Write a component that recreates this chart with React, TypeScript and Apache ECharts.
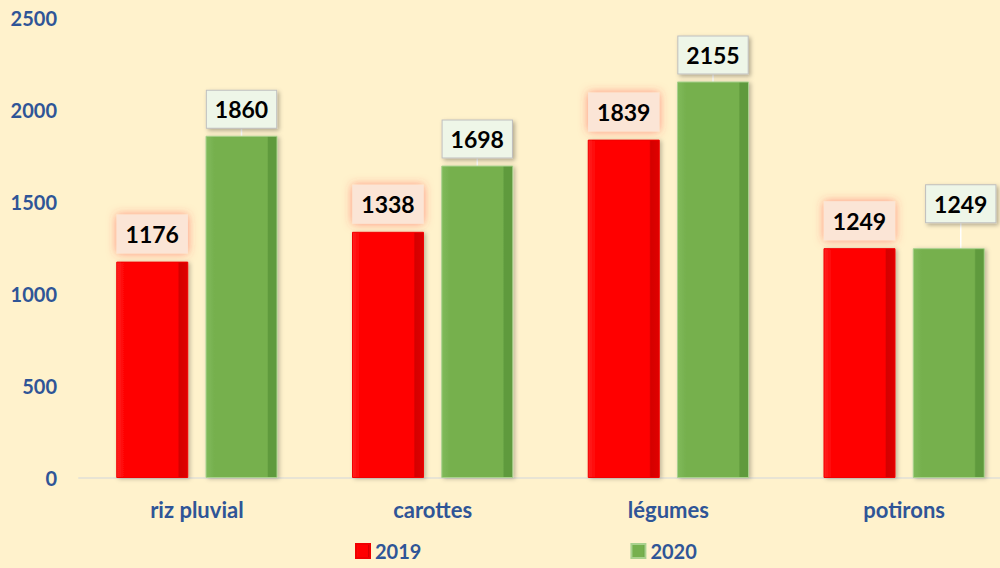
import React, { useEffect, useRef } from "react";
import * as echarts from "echarts";

const categories = ["riz pluvial", "carottes", "légumes", "potirons"];
const values2019 = [1176, 1338, 1839, 1249];
const values2020 = [1860, 1698, 2155, 1249];
const yTicks = [0, 500, 1000, 1500, 2000, 2500];

const FONT = "Lato, 'Open Sans', sans-serif";
const BLUE = "#2F5597";

export default function App() {
  const ref = useRef<HTMLDivElement>(null);
  useEffect(() => {
    if (!ref.current) return;
    const chart = echarts.init(ref.current, null, { renderer: "svg" });
    const redGrad = new echarts.graphic.LinearGradient(0, 0, 1, 0, [
      { offset: 0, color: "#FF2020" },
      { offset: 0.12, color: "#FF0000" },
      { offset: 0.86, color: "#FF0000" },
      { offset: 0.88, color: "#D40000" },
      { offset: 1, color: "#E00000" },
    ]);
    const greenGrad = new echarts.graphic.LinearGradient(0, 0, 1, 0, [
      { offset: 0, color: "#80BA5A" },
      { offset: 0.12, color: "#76B04E" },
      { offset: 0.86, color: "#76B04E" },
      { offset: 0.88, color: "#5F9A3C" },
      { offset: 1, color: "#5F9A3C" },
    ]);
    chart.setOption({
      animation: false,
      backgroundColor: "#FFF2CC",
      textStyle: { fontFamily: FONT },
      grid: { left: 79, top: 18, bottom: 90, width: 943, outerBoundsMode: "none" },
      legend: {
        left: 355,
        top: 541,
        padding: 0,
        itemWidth: 14,
        itemHeight: 14,
        itemGap: 209,
        icon: "rect",
        textStyle: { color: BLUE, fontSize: 20, fontWeight: "bold", fontFamily: FONT },
        data: ["2019", "2020"],
      },
      xAxis: {
        type: "category",
        data: categories,
        axisTick: { show: false },
        axisLine: { lineStyle: { color: "#E8E4D4", width: 2 } },
        axisLabel: { color: BLUE, fontSize: 22, fontWeight: "bold", margin: 20, fontFamily: FONT },
      },
      yAxis: {
        type: "value",
        min: yTicks[0],
        max: yTicks[yTicks.length - 1],
        interval: 500,
        splitLine: { show: false },
        axisLine: { show: false },
        axisTick: { show: false },
        axisLabel: {
          color: BLUE,
          fontSize: 20,
          fontWeight: "bold",
          margin: 22,
          fontFamily: FONT,
          formatter: (v: number) => String(v),
        },
      },
      series: [
        {
          name: "2019",
          type: "bar",
          data: values2019,
          barWidth: 72,
          barGap: "24%",
          itemStyle: {
            color: redGrad,
            borderColor: "#F00000",
            borderWidth: 1,
            shadowColor: "rgba(0,0,0,0.25)",
            shadowBlur: 4,
            shadowOffsetX: 2,
            shadowOffsetY: 1,
          },
          label: {
            show: true,
            position: "top",
            distance: 8,
            color: "#000",
            fontSize: 23,
            fontWeight: "bold",
            fontFamily: FONT,
            backgroundColor: "#FBE5D6",
            padding: [8, 9],
            shadowColor: "rgba(255,60,60,0.55)",
            shadowBlur: 10,
          },
        },
        {
          name: "2020",
          type: "bar",
          data: values2020,
          barWidth: 72,
          itemStyle: {
            color: greenGrad,
            borderColor: "#A9D18E",
            borderWidth: 1,
            shadowColor: "rgba(0,0,0,0.25)",
            shadowBlur: 4,
            shadowOffsetX: 2,
            shadowOffsetY: 1,
          },
          label: {
            show: true,
            position: "top",
            distance: 8,
            color: "#000",
            fontSize: 23,
            fontWeight: "bold",
            fontFamily: FONT,
            backgroundColor: "#EEF6E8",
            borderColor: "#BFBFBF",
            borderWidth: 1,
            padding: [7, 8],
            shadowColor: "rgba(0,0,0,0.3)",
            shadowBlur: 4,
            shadowOffsetX: 2,
            shadowOffsetY: 2,
          },
          labelLine: { show: true, lineStyle: { color: "#FFFFFF", width: 1.5 } },
          labelLayout: (p: any) => (p.dataIndex === 3 ? { dx: 12, dy: -18 } : {}),
        },
      ],
    });
    return () => chart.dispose();
  }, []);
  return <div ref={ref} style={{ width: 1000, height: 568, position: "absolute", left: 0, top: 0 }} />;
}
